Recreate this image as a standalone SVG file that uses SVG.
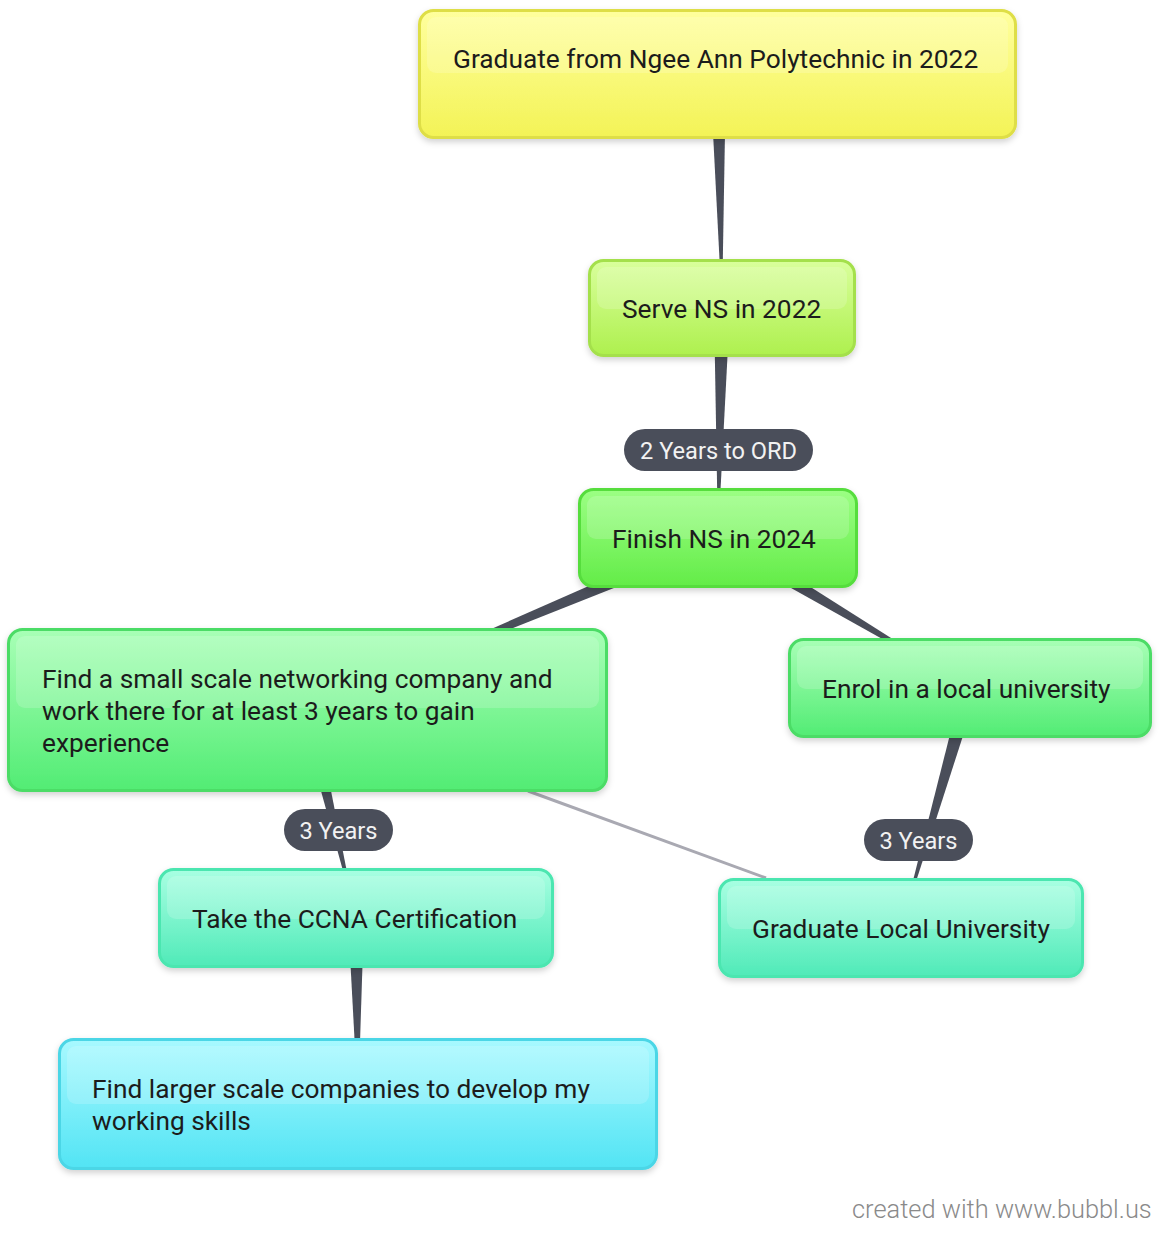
<svg xmlns="http://www.w3.org/2000/svg" width="1170" height="1242" viewBox="0 0 1170 1242">
<defs>
<linearGradient id="gY" x1="0" y1="0" x2="0" y2="1"><stop offset="0" stop-color="#ffff9e"/><stop offset="1" stop-color="#f3f356"/></linearGradient>
<linearGradient id="gL" x1="0" y1="0" x2="0" y2="1"><stop offset="0" stop-color="#d9ff9c"/><stop offset="1" stop-color="#aef04e"/></linearGradient>
<linearGradient id="gG" x1="0" y1="0" x2="0" y2="1"><stop offset="0" stop-color="#9cff84"/><stop offset="1" stop-color="#63ec48"/></linearGradient>
<linearGradient id="gM" x1="0" y1="0" x2="0" y2="1"><stop offset="0" stop-color="#a8ffb6"/><stop offset="1" stop-color="#52ec74"/></linearGradient>
<linearGradient id="gT" x1="0" y1="0" x2="0" y2="1"><stop offset="0" stop-color="#a8ffe2"/><stop offset="1" stop-color="#50eab8"/></linearGradient>
<linearGradient id="gC" x1="0" y1="0" x2="0" y2="1"><stop offset="0" stop-color="#a8f9ff"/><stop offset="1" stop-color="#52e4f4"/></linearGradient>
<filter id="sh" x="-5%" y="-10%" width="110%" height="130%"><feDropShadow dx="0" dy="3" stdDeviation="3" flood-color="#000" flood-opacity="0.18"/></filter>
</defs>
<style>
.n{stroke-width:3;filter:url(#sh)}
.hl{fill:#fff;opacity:0.17}
.t{font-family:Roboto,"Liberation Sans",sans-serif;font-size:26.3px;fill:#1c1c1c}
.w{fill:#4a4e5a}
.p{fill:#4a4e5a}
.pt{font-family:Roboto,"Liberation Sans",sans-serif;font-size:23.6px;fill:#f2f2f2;text-anchor:middle}
.ft{font-family:Roboto,"Liberation Sans",sans-serif;font-size:25.4px;font-weight:300;fill:#8a8a8a}
</style>
<rect width="1170" height="1242" fill="#fff"/>
<g id="connectors">
<polygon class="w" points="710,74 726,74 722,308"/>
<polygon class="w" points="714,308 730,308 718,538"/>
<polygon class="w" points="714.9,530.6 721.1,545.4 307,710"/>
<polygon class="w" points="713.9,544.9 722.1,531.1 970,688"/>
<polygon class="w" points="299.2,711.8 314.8,708.2 356,918"/>
<polygon class="w" points="962.3,685.8 977.7,690.2 901,928"/>
<polygon class="w" points="348,918 364,918 358,1104"/>
<line x1="528" y1="791" x2="766" y2="878" stroke="#a9a9b2" stroke-width="3"/>
</g>
<g id="n1"><rect class="n" x="419.5" y="10.5" width="596" height="127" rx="14" fill="url(#gY)" stroke="#dede46"/><rect class="hl" x="427" y="17" width="581" height="56" rx="9"/><text class="t" x="453" y="68">Graduate from Ngee Ann Polytechnic in 2022</text></g>
<g id="n2"><rect class="n" x="589.5" y="260.5" width="265" height="95" rx="14" fill="url(#gL)" stroke="#a4e04c"/><rect class="hl" x="597" y="267" width="250" height="42" rx="9"/><text class="t" x="622" y="318">Serve NS in 2022</text></g>
<g id="n3"><rect class="n" x="579.5" y="489.5" width="277" height="97" rx="14" fill="url(#gG)" stroke="#56dd3e"/><rect class="hl" x="587" y="496" width="262" height="43" rx="9"/><text class="t" x="612" y="548">Finish NS in 2024</text></g>
<g id="n4"><rect class="n" x="8.5" y="629.5" width="598" height="161" rx="14" fill="url(#gM)" stroke="#4cdc66"/><rect class="hl" x="16" y="636" width="583" height="72" rx="9"/><text class="t" x="42" y="688">Find a small scale networking company and</text><text class="t" x="42" y="720">work there for at least 3 years to gain</text><text class="t" x="42" y="752">experience</text></g>
<g id="n5"><rect class="n" x="789.5" y="639.5" width="361" height="97" rx="14" fill="url(#gM)" stroke="#4cdc66"/><rect class="hl" x="797" y="646" width="346" height="43" rx="9"/><text class="t" x="822" y="698">Enrol in a local university</text></g>
<g id="n6"><rect class="n" x="159.5" y="869.5" width="393" height="97" rx="14" fill="url(#gT)" stroke="#4ce6b0"/><rect class="hl" x="167" y="876" width="378" height="43" rx="9"/><text class="t" x="192" y="928">Take the CCNA Certification</text></g>
<g id="n7"><rect class="n" x="719.5" y="879.5" width="363" height="97" rx="14" fill="url(#gT)" stroke="#4ce6b0"/><rect class="hl" x="727" y="886" width="348" height="43" rx="9"/><text class="t" x="752" y="938">Graduate Local University</text></g>
<g id="n8"><rect class="n" x="59.5" y="1039.5" width="597" height="129" rx="14" fill="url(#gC)" stroke="#4cd6e6"/><rect class="hl" x="67" y="1046" width="582" height="58" rx="9"/><text class="t" x="92" y="1098">Find larger scale companies to develop my</text><text class="t" x="92" y="1130">working skills</text></g>
<g id="labels">
<rect class="p" x="624" y="429" width="189" height="42" rx="21"/><text class="pt" x="718.5" y="458.5">2 Years to ORD</text>
<rect class="p" x="284" y="809" width="109" height="42" rx="21"/><text class="pt" x="338.5" y="838.5">3 Years</text>
<rect class="p" x="864" y="819" width="109" height="42" rx="21"/><text class="pt" x="918.5" y="848.5">3 Years</text>
</g>
<text class="ft" x="852" y="1218">created with www.bubbl.us</text>
</svg>
